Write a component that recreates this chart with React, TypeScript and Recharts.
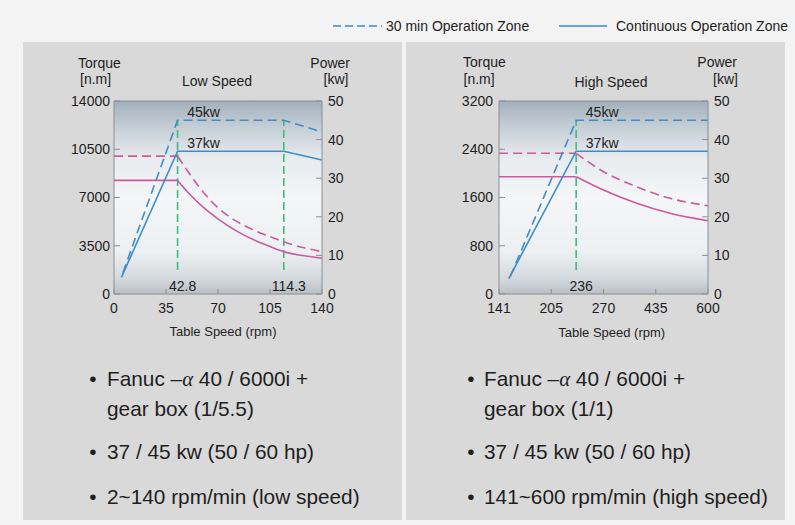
import React from 'react';
import { ComposedChart, Line, XAxis, YAxis, CartesianGrid, ReferenceLine, ReferenceDot } from 'recharts';

const FONT = '"Liberation Sans", Arial, Helvetica, sans-serif';
const BLUE = '#3f8dc8';
const PINK = '#cc5a9e';
const GREEN = '#3dbd7d';
const AXIS = '#8a9096';
const TICK = '#8f8f8f';
const TEXT = '#1e1e1e';

// ---------- shared ----------
const powerTicks = [0, 10, 20, 30, 40, 50];

// ---------- Low speed (gear box 1/5.5) ----------
const lowSpeedTicks = [0, 35, 70, 105, 140];
const lowTorqueTicks = [0, 3500, 7000, 10500, 14000];
const lowMarkers = [42.8, 114.3];
const lowPower30 = [
  { rpm: 6, kw: 5.5 },
  { rpm: 42.8, kw: 45 },
  { rpm: 114.3, kw: 45 },
  { rpm: 140, kw: 42 },
];
const lowPowerCont = [
  { rpm: 5, kw: 4.3 },
  { rpm: 42.8, kw: 37 },
  { rpm: 114.3, kw: 37 },
  { rpm: 140, kw: 34.7 },
];
const lowTorque30Flat = [
  { rpm: 0, nm: 10000 },
  { rpm: 42.8, nm: 10000 },
];
const lowTorque30Curve = [
  { rpm: 42.8, nm: 10000 },
  { rpm: 50, nm: 8850 },
  { rpm: 60, nm: 7400 },
  { rpm: 70, nm: 6250 },
  { rpm: 82, nm: 5300 },
  { rpm: 94, nm: 4640 },
  { rpm: 105, nm: 4160 },
  { rpm: 116.4, nm: 3700 },
  { rpm: 128, nm: 3350 },
  { rpm: 140, nm: 3070 },
];
const lowTorqueContFlat = [
  { rpm: 0, nm: 8240 },
  { rpm: 42.8, nm: 8240 },
];
const lowTorqueContCurve = [
  { rpm: 42.8, nm: 8240 },
  { rpm: 50, nm: 7350 },
  { rpm: 60, nm: 6300 },
  { rpm: 70, nm: 5450 },
  { rpm: 82, nm: 4600 },
  { rpm: 94, nm: 3930 },
  { rpm: 105, nm: 3440 },
  { rpm: 116.4, nm: 3000 },
  { rpm: 128, nm: 2770 },
  { rpm: 140, nm: 2590 },
];

// ---------- High speed (gear box 1/1) ----------
const highSpeedTicks = [141, 205, 270, 435, 600];
const highTorqueTicks = [0, 800, 1600, 2400, 3200];
const highMarkers = [236];
const highPower30 = [
  { rpm: 155, kw: 4.6 },
  { rpm: 236, kw: 45 },
  { rpm: 600, kw: 45 },
];
const highPowerCont = [
  { rpm: 153, kw: 4.0 },
  { rpm: 236, kw: 37 },
  { rpm: 600, kw: 37 },
];
const highTorque30Flat = [
  { rpm: 141, nm: 2333 },
  { rpm: 236, nm: 2333 },
];
const highTorque30Curve = [
  { rpm: 236, nm: 2333 },
  { rpm: 270, nm: 2028 },
  { rpm: 375, nm: 1779 },
  { rpm: 480, nm: 1587 },
  { rpm: 600, nm: 1464 },
];
const highTorqueContFlat = [
  { rpm: 141, nm: 1945 },
  { rpm: 236, nm: 1945 },
];
const highTorqueContCurve = [
  { rpm: 236, nm: 1945 },
  { rpm: 270, nm: 1724 },
  { rpm: 375, nm: 1504 },
  { rpm: 480, nm: 1338 },
  { rpm: 600, nm: 1215 },
];

// marker line span (kw) and label heights (kw)
const markerBottomKw = 6.2;
const markerTopKw = 45;
const markerLabelKw = 2.1;
const label45Kw = 47.2;
const label37Kw = 39;

// the high-speed axis is drawn with evenly spaced tick labels (piecewise linear)
const highPos = (rpm: number) => {
  const t = highSpeedTicks;
  for (let i = 0; i < t.length - 1; i++) {
    if (rpm <= t[i + 1] || i === t.length - 2) {
      return i + (rpm - t[i]) / (t[i + 1] - t[i]);
    }
  }
  return 0;
};

type Pt = { rpm: number; kw?: number; nm?: number };

const makeLabel = (text: string, dx: number) => (props: any) => {
  const vb = props.viewBox || {};
  return (
    <text
      x={(vb.x || 0) + dx}
      y={vb.y || 0}
      textAnchor="middle"
      dominantBaseline="central"
      fontSize={14}
      fill={TEXT}
      fontFamily={FONT}
    >
      {text}
    </text>
  );
};

interface ChartProps {
  left: number;
  gradId: string;
  xKey: any;
  xOf: (rpm: number) => number;
  xDomain: [number, number];
  xTicks: number[];
  xFormat: (v: number) => string;
  torqueMax: number;
  torqueTicks: number[];
  power30: Pt[];
  powerCont: Pt[];
  torque30Flat: Pt[];
  torque30Curve: Pt[];
  torqueContFlat: Pt[];
  torqueContCurve: Pt[];
  markers: number[];
  peakRpm: number;
  leftGap: number;
  rightGap: number;
  bottomGap: number;
  width: number;
}

function SpeedChart(p: ChartProps) {
  const tickStyle = { fontSize: 14, fill: TEXT, fontFamily: FONT };
  const common = { dot: false as const, isAnimationActive: false, strokeWidth: 1.6, activeDot: false as const };
  return (
    <div style={{ position: 'absolute', left: p.left, top: 80 }}>
      <ComposedChart width={p.width} height={280} margin={{ top: 21, right: 10, bottom: 36, left: 10 }}>
        <defs>
          <linearGradient id={p.gradId} x1="0" y1="0" x2="0" y2="1">
            <stop offset="0" stopColor="#a2afbb" />
            <stop offset="0.12" stopColor="#c2cbd3" />
            <stop offset="0.3" stopColor="#e8ecef" />
            <stop offset="0.5" stopColor="#f4f6f7" />
            <stop offset="0.78" stopColor="#edf0f2" />
            <stop offset="0.92" stopColor="#d4d9dd" />
            <stop offset="1" stopColor="#b9bfc4" />
          </linearGradient>
        </defs>
        <CartesianGrid horizontal={false} vertical={false} fill={`url(#${p.gradId})`} fillOpacity={1} />
        <XAxis
          type="number"
          dataKey={p.xKey}
          domain={p.xDomain}
          ticks={p.xTicks}
          tickFormatter={p.xFormat}
          interval={0}
          height={30}
          axisLine={{ stroke: AXIS }}
          tickLine={{ stroke: TICK }}
          tickSize={-5}
          tickMargin={5 + p.bottomGap}
          tick={tickStyle}
        />
        <YAxis
          orientation="left"
          width={40}
          type="number"
          domain={[0, p.torqueMax]}
          ticks={p.torqueTicks}
          interval={0}
          axisLine={{ stroke: AXIS }}
          tickLine={{ stroke: TICK }}
          tickSize={-6}
          tickMargin={6 + p.leftGap}
          tick={tickStyle}
        />
        <YAxis
          yAxisId="power"
          orientation="right"
          width={32}
          type="number"
          domain={[0, 50]}
          ticks={powerTicks}
          interval={0}
          axisLine={{ stroke: AXIS }}
          tickLine={{ stroke: TICK }}
          tickSize={-6}
          tickMargin={6 + p.rightGap}
          tick={tickStyle}
        />
        <ReferenceLine yAxisId="power" y={50} stroke={AXIS} />

        {p.markers.map((m) => (
          <Line
            key={`m${m}`}
            yAxisId="power"
            data={[
              { rpm: m, kw: markerBottomKw },
              { rpm: m, kw: markerTopKw },
            ]}
            dataKey="kw"
            type="linear"
            stroke={GREEN}
            strokeDasharray="8 4"
            {...common}
          />
        ))}

        <Line data={p.torque30Flat} dataKey="nm" type="linear" stroke={PINK} strokeDasharray="9 5" {...common} />
        <Line data={p.torque30Curve} dataKey="nm" type="monotone" stroke={PINK} strokeDasharray="9 5" {...common} />
        <Line data={p.torqueContFlat} dataKey="nm" type="linear" stroke={PINK} {...common} />
        <Line data={p.torqueContCurve} dataKey="nm" type="monotone" stroke={PINK} {...common} />

        <Line yAxisId="power" data={p.power30} dataKey="kw" type="linear" stroke={BLUE} strokeDasharray="9 5" {...common} />
        <Line yAxisId="power" data={p.powerCont} dataKey="kw" type="linear" stroke={BLUE} {...common} />

        {p.markers.map((m) => (
          <ReferenceDot
            key={`l${m}`}
            yAxisId="power"
            x={p.xOf(m)}
            y={markerLabelKw}
            r={0}
            stroke="none"
            fill="none"
            ifOverflow="visible"
            label={makeLabel(String(m), 5)}
          />
        ))}
        <ReferenceDot yAxisId="power" x={p.xOf(p.peakRpm)} y={label45Kw} r={0} stroke="none" fill="none" ifOverflow="visible" label={makeLabel('45kw', 26)} />
        <ReferenceDot yAxisId="power" x={p.xOf(p.peakRpm)} y={label37Kw} r={0} stroke="none" fill="none" ifOverflow="visible" label={makeLabel('37kw', 26)} />
      </ComposedChart>
    </div>
  );
}

const T = (props: any) => <text fontFamily={FONT} fill={TEXT} {...props} />;

function Bullets({ bx, tx, lines }: { bx: number; tx: number; lines: { text: React.ReactNode; y: number; bullet: boolean }[] }) {
  return (
    <>
      {lines.map((l, i) => (
        <React.Fragment key={i}>
          {l.bullet && (
            <T x={bx} y={l.y} fontSize={20.8} textAnchor="middle">
              •
            </T>
          )}
          <T x={tx} y={l.y} fontSize={20.8}>
            {l.text}
          </T>
        </React.Fragment>
      ))}
    </>
  );
}

const alphaLine = (
  <>
    Fanuc –<tspan fontFamily='"Liberation Serif", "DejaVu Serif", serif' fontStyle="italic">α</tspan> 40 / 6000i +
  </>
);

export default function App() {
  return (
    <div
      style={{
        position: 'absolute',
        left: 0,
        top: 0,
        width: 795,
        height: 525,
        background: '#f3f3f3',
        overflow: 'hidden',
        fontFamily: FONT,
      }}
    >
      <div style={{ position: 'absolute', left: 23, top: 42, width: 379, height: 478, background: '#d9d9d9' }} />
      <div style={{ position: 'absolute', left: 406, top: 42, width: 379, height: 478, background: '#d9d9d9' }} />

      <SpeedChart
        left={64}
        width={300}
        gradId="bgLow"
        xKey="rpm"
        xOf={(r) => r}
        xDomain={[0, 140]}
        xTicks={lowSpeedTicks}
        xFormat={(v) => String(v)}
        torqueMax={14000}
        torqueTicks={lowTorqueTicks}
        power30={lowPower30}
        powerCont={lowPowerCont}
        torque30Flat={lowTorque30Flat}
        torque30Curve={lowTorque30Curve}
        torqueContFlat={lowTorqueContFlat}
        torqueContCurve={lowTorqueContCurve}
        markers={lowMarkers}
        peakRpm={lowMarkers[0]}
        leftGap={4}
        rightGap={6}
        bottomGap={9}
      />
      <SpeedChart
        left={449}
        width={301}
        gradId="bgHigh"
        xKey={(d: Pt) => highPos(d.rpm)}
        xOf={highPos}
        xDomain={[0, highSpeedTicks.length - 1]}
        xTicks={highSpeedTicks.map((_, i) => i)}
        xFormat={(v) => String(highSpeedTicks[Math.round(v)])}
        torqueMax={3200}
        torqueTicks={highTorqueTicks}
        power30={highPower30}
        powerCont={highPowerCont}
        torque30Flat={highTorque30Flat}
        torque30Curve={highTorque30Curve}
        torqueContFlat={highTorqueContFlat}
        torqueContCurve={highTorqueContCurve}
        markers={highMarkers}
        peakRpm={highMarkers[0]}
        leftGap={6}
        rightGap={6}
        bottomGap={9}
      />

      <svg width={795} height={525} style={{ position: 'absolute', left: 0, top: 0, pointerEvents: 'none' }}>
        {/* legend */}
        <line x1={333} y1={26} x2={382} y2={26} stroke={BLUE} strokeWidth={1.5} strokeDasharray="8 4" />
        <T x={386} y={26} fontSize={14} dominantBaseline="central">30 min Operation Zone</T>
        <line x1={559} y1={26} x2={607} y2={26} stroke={BLUE} strokeWidth={1.5} />
        <T x={616} y={26} fontSize={14} dominantBaseline="central">Continuous Operation Zone</T>

        {/* low speed titles */}
        <T x={78} y={62.5} fontSize={14} dominantBaseline="central">Torque</T>
        <T x={80} y={79} fontSize={14} dominantBaseline="central">[n.m]</T>
        <T x={350} y={62.5} fontSize={14} dominantBaseline="central" textAnchor="end">Power</T>
        <T x={348.5} y={79} fontSize={14} dominantBaseline="central" textAnchor="end">[kw]</T>
        <T x={217} y={81} fontSize={14} dominantBaseline="central" textAnchor="middle">Low Speed</T>
        <T x={223} y={331.5} fontSize={13} dominantBaseline="central" textAnchor="middle">Table Speed (rpm)</T>

        {/* high speed titles */}
        <T x={463} y={62} fontSize={14} dominantBaseline="central">Torque</T>
        <T x={463.5} y={79.3} fontSize={14} dominantBaseline="central">[n.m]</T>
        <T x={737} y={62} fontSize={14} dominantBaseline="central" textAnchor="end">Power</T>
        <T x={738} y={79.3} fontSize={14} dominantBaseline="central" textAnchor="end">[kw]</T>
        <T x={611} y={81.7} fontSize={14} dominantBaseline="central" textAnchor="middle">High Speed</T>
        <T x={611.7} y={332} fontSize={13} dominantBaseline="central" textAnchor="middle">Table Speed (rpm)</T>

        <Bullets
          bx={93}
          tx={107}
          lines={[
            { text: alphaLine, y: 386, bullet: true },
            { text: 'gear box (1/5.5)', y: 415.7, bullet: false },
            { text: '37 / 45 kw (50 / 60 hp)', y: 459.3, bullet: true },
            { text: '2~140 rpm/min (low speed)', y: 504, bullet: true },
          ]}
        />
        <Bullets
          bx={471}
          tx={484}
          lines={[
            { text: alphaLine, y: 386, bullet: true },
            { text: 'gear box (1/1)', y: 415.7, bullet: false },
            { text: '37 / 45 kw (50 / 60 hp)', y: 459.3, bullet: true },
            { text: '141~600 rpm/min (high speed)', y: 504, bullet: true },
          ]}
        />
      </svg>
    </div>
  );
}
